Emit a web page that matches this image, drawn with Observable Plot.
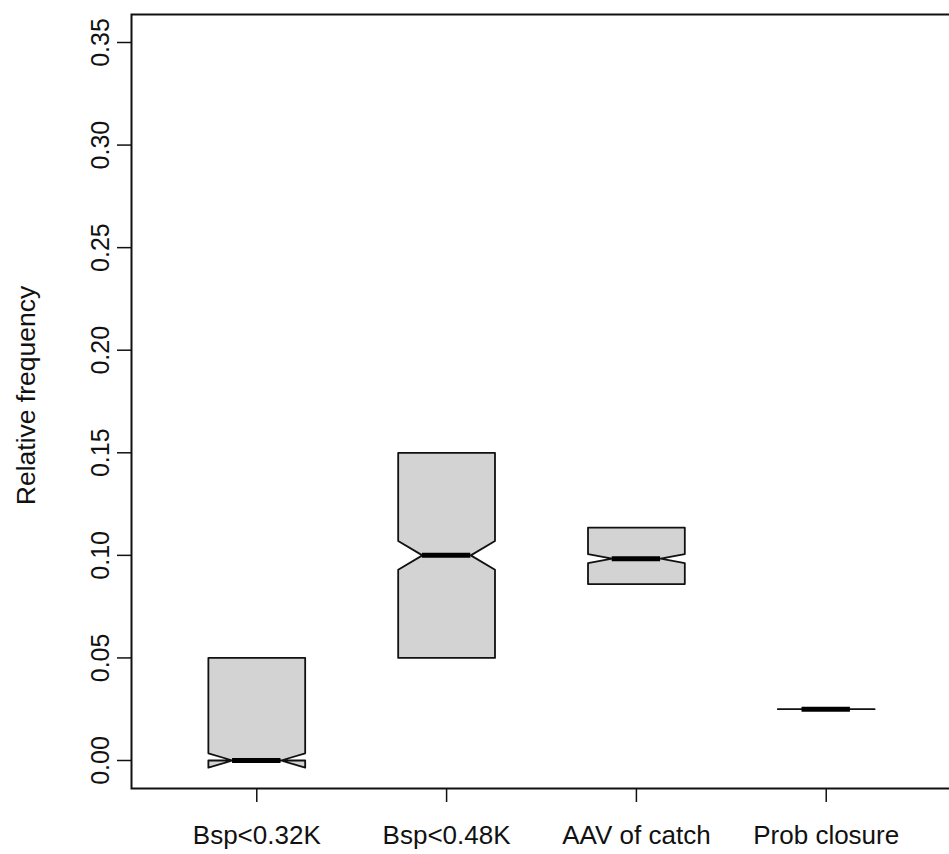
<!DOCTYPE html>
<html>
<head>
<meta charset="utf-8">
<script src="https://cdn.jsdelivr.net/npm/d3@7"></script>
<script src="https://cdn.jsdelivr.net/npm/@observablehq/plot@0.6"></script>
<style>
  html, body { margin: 0; padding: 0; background: white; overflow: hidden; }
</style>
</head>
<body>
<div id="chart"></div>
<script>
// ---- data ----
const categories = ["Bsp<0.32K", "Bsp<0.48K", "AAV of catch", "Prob closure"];
const lowerHinge = [0.000, 0.050, 0.0860, 0.025];
const medians    = [0.000, 0.100, 0.0984, 0.025];
const upperHinge = [0.050, 0.150, 0.1135, 0.025];
const notchLow   = [-0.0035, 0.093, 0.0962, 0.025];
const notchHigh  = [0.0035, 0.107, 0.1006, 0.025];
const yTicks = [0.00, 0.05, 0.10, 0.15, 0.20, 0.25, 0.30, 0.35];
const yLabel = "Relative frequency";

// ---- build tables ----
const halfWidth = 0.255;   // box half-width in x units
const notchFrac = 0.5;
const boxes = categories.map((c, i) => ({
  name: c, pos: i + 1,
  q1: lowerHinge[i], med: medians[i], q3: upperHinge[i],
  nlo: notchLow[i], nhi: notchHigh[i]
}));
const polys = [];
for (const b of boxes) {
  const L = b.pos - halfWidth, R = b.pos + halfWidth;
  const Ln = b.pos - halfWidth * notchFrac, Rn = b.pos + halfWidth * notchFrac;
  const pts = [
    [L, b.q1], [L, b.nlo], [Ln, b.med], [L, b.nhi], [L, b.q3],
    [R, b.q3], [R, b.nhi], [Rn, b.med], [R, b.nlo], [R, b.q1]
  ];
  pts.forEach(([x, y]) => polys.push({group: b.name, x, y}));
}

const font = "'Liberation Sans', Arial, Helvetica, sans-serif";

const chart = Plot.plot({
  width: 949,
  height: 854,
  marginLeft: 131,
  marginTop: 14,
  marginRight: -2,
  marginBottom: 66,
  style: {fontFamily: font, fontSize: "25px", background: "white", color: "#111"},
  x: {domain: [0.34, 4.66], axis: null},
  y: {domain: [-0.01365, 0.36365], axis: null},
  marks: [
    Plot.line(polys, {
      x: "x", y: "y", z: "group",
      fill: "#d3d3d3", stroke: "#111", strokeWidth: 1.8,
      curve: "linear-closed"
    }),
    Plot.ruleY(boxes, {
      y: "med",
      x1: d => d.pos - halfWidth * notchFrac,
      x2: d => d.pos + halfWidth * notchFrac,
      stroke: "#000", strokeWidth: 5
    }),
    Plot.axisY({
      ticks: yTicks, tickSize: 14, tickPadding: 9, tickRotate: -90,
      tickFormat: d3.format(".2f"), label: null, strokeWidth: 1.5, fontSize: 25
    }),
    Plot.axisX({
      ticks: [1, 2, 3, 4], tickFormat: i => categories[i - 1],
      tickSize: 14, tickPadding: 23, label: null, strokeWidth: 1.5, fontSize: 26
    }),
    Plot.text([yLabel], {
      text: d => d, frameAnchor: "left", textAnchor: "middle",
      dx: -105, dy: -6, rotate: -90, fontSize: 26.5
    }),
    Plot.frame({stroke: "#111", strokeWidth: 2})
  ]
});
document.getElementById("chart").appendChild(chart);
</script>
</body>
</html>
